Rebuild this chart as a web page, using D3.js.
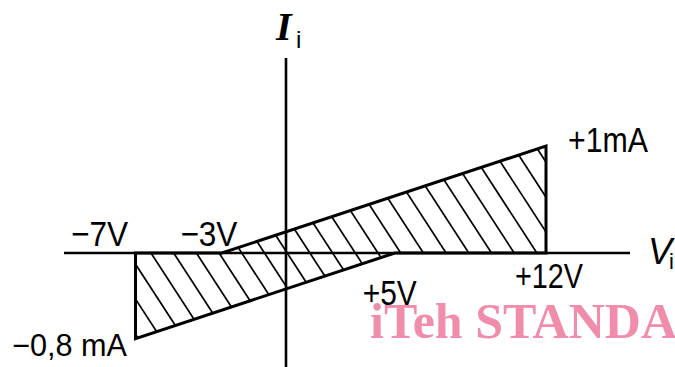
<!DOCTYPE html>
<html>
<head>
<meta charset="utf-8">
<script src="https://cdn.jsdelivr.net/npm/d3@7"></script>
<style>
  html, body { margin: 0; padding: 0; background: #fff; }
  svg { display: block; }
</style>
</head>
<body>
<svg id="chart" width="675" height="367"></svg>
<script>
// region corners (V in volts, I in mA)
var regionV = [-7, -7, 5, 12, 12, -3];
var regionI = [0, -0.8, 0, 0, 1, 0];

// axis ticks and their labels
var vTicks = [-7, -3, 5, 12];
var vTickLabels = ["\u22127V", "\u22123V", "+5V", "+12V"];
var iTicks = [1, -0.8];
var iTickLabels = ["+1mA", "\u22120,8 mA"];

var width = 675, height = 367;
var svg = d3.select("#chart");

var x = d3.scaleLinear().domain([-7, 12]).range([135.5, 546]);
var y = d3.scaleLinear().domain([-0.8, 1]).range([338.6, 146]);

var x0 = x(0), y0 = y(0);

// watermark behind the drawing
var mark = svg.append("g").attr("font-family", "'Liberation Serif', serif")
  .attr("font-weight", "bold").attr("fill", "#ef8dab");
mark.append("text").attr("x", 370).attr("y", 338).attr("font-size", 50)
  .text("iTeh STANDARD PREVIEW");
mark.append("text").attr("x", 509).attr("y", 395).attr("font-size", 40)
  .attr("fill", "#f3a9bf").text("(standards.iteh.ai)");

// hatched region
var pts = regionV.map(function(v, i) { return [x(v), y(regionI[i])]; });

svg.append("clipPath").attr("id", "regionClip")
  .append("polygon").attr("points", pts.join(" "));

var dirX = Math.cos(57 * Math.PI / 180), dirY = Math.sin(57 * Math.PI / 180);
var hatchStart = d3.range(-12, 22).map(function(k) { return 151 + k * 22.7; });

svg.append("g").attr("clip-path", "url(#regionClip)")
  .selectAll("line").data(hatchStart).enter().append("line")
  .attr("x1", function(d) { return d - dirX * 200; })
  .attr("y1", y0 - dirY * 200)
  .attr("x2", function(d) { return d + dirX * 200; })
  .attr("y2", y0 + dirY * 200)
  .attr("stroke", "#000").attr("stroke-width", 1.7);

// axes
svg.append("line").attr("x1", 64).attr("x2", 630).attr("y1", y0).attr("y2", y0)
  .attr("stroke", "#000").attr("stroke-width", 2.6);
svg.append("line").attr("x1", 286).attr("x2", 286).attr("y1", 58).attr("y2", height)
  .attr("stroke", "#000").attr("stroke-width", 2.6);

// outline
svg.append("polygon").attr("points", pts.join(" "))
  .attr("fill", "none").attr("stroke", "#000").attr("stroke-width", 3)
  .attr("stroke-linejoin", "miter");

// tick labels
var vLayout = [
  {dx: -36, y: 246, w: 57},
  {dx: -13, y: 246, w: 57},
  {dx: -5, y: 305, w: 54},
  {dx: 3, y: 288, w: 68}
];
svg.append("g").attr("font-family", "'Liberation Sans', Arial, sans-serif")
  .attr("font-size", 35).attr("text-anchor", "middle")
  .selectAll("text").data(vTicks).enter().append("text")
  .attr("x", function(d, i) { return x(d) + vLayout[i].dx; })
  .attr("y", function(d, i) { return vLayout[i].y; })
  .attr("textLength", function(d, i) { return vLayout[i].w; })
  .attr("lengthAdjust", "spacingAndGlyphs")
  .text(function(d, i) { return vTickLabels[i]; });

var iLayout = [
  {x: 568, dy: 6, w: 80, size: 35},
  {x: 12, dy: 17, w: 115, size: 31}
];
svg.append("g").attr("font-family", "'Liberation Sans', Arial, sans-serif")
  .selectAll("text").data(iTicks).enter().append("text")
  .attr("x", function(d, i) { return iLayout[i].x; })
  .attr("y", function(d, i) { return y(d) + iLayout[i].dy; })
  .attr("font-size", function(d, i) { return iLayout[i].size; })
  .attr("textLength", function(d, i) { return iLayout[i].w; })
  .attr("lengthAdjust", "spacingAndGlyphs")
  .text(function(d, i) { return iTickLabels[i]; });

// axis titles
var iTitle = svg.append("text").attr("x", 276).attr("y", 40);
iTitle.append("tspan").attr("font-family", "'Liberation Serif', serif")
  .attr("font-weight", "bold").attr("font-style", "italic").attr("font-size", 40).text("I");
iTitle.append("tspan").attr("x", 296).attr("y", 48)
  .attr("font-family", "'Liberation Sans', sans-serif").attr("font-size", 24).text("i");

var vTitle = svg.append("text").attr("x", 648).attr("y", 264);
vTitle.append("tspan").attr("font-family", "'Liberation Sans', sans-serif")
  .attr("font-style", "italic").attr("font-size", 36).text("V");
vTitle.append("tspan").attr("x", 669).attr("y", 269)
  .attr("font-family", "'Liberation Sans', sans-serif").attr("font-size", 22).text("i");
</script>
</body>
</html>
